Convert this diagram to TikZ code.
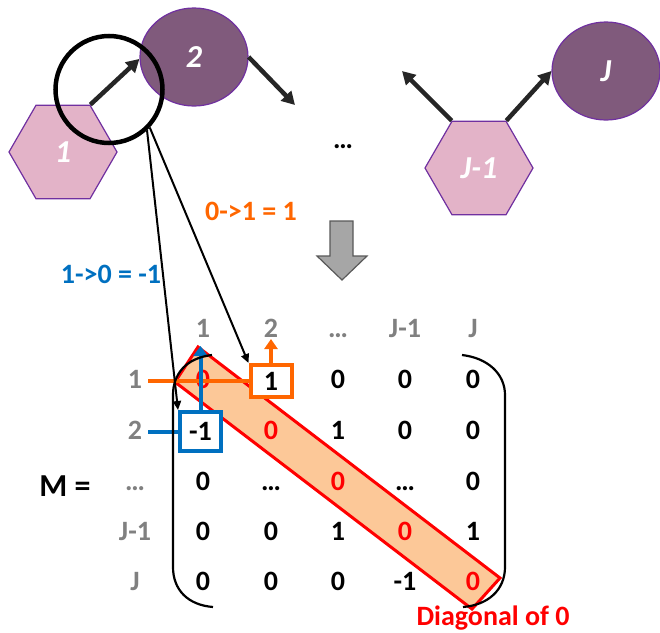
\documentclass[tikz,border=0pt]{standalone}
\usepackage{fontspec}
\setmainfont{Carlito}
\usetikzlibrary{shapes.geometric,arrows.meta}
\pgfdeclarelayer{bg}
\pgfsetlayers{bg,main}
\definecolor{hexfill}{RGB}{227,179,200}
\definecolor{ellfill}{RGB}{128,90,124}
\definecolor{purp}{RGB}{112,48,160}
\definecolor{arrowdark}{RGB}{38,38,38}
\definecolor{orng}{RGB}{255,102,0}
\definecolor{blu}{RGB}{0,112,192}
\definecolor{redc}{RGB}{255,0,0}
\definecolor{bandfill}{RGB}{252,200,152}
\definecolor{graytxt}{RGB}{128,128,128}
\definecolor{grayfill}{RGB}{166,166,166}
\definecolor{grayline}{RGB}{89,89,89}
\begin{document}
\begin{tikzpicture}[x=1pt,y=-1pt,
  every node/.style={font=\fontsize{28}{30}\selectfont\bfseries},
  lab/.style={anchor=base, inner sep=0},
  hdr/.style={lab, text=graytxt},
  diag/.style={lab, text=redc},
  hexnode/.style={regular polygon, regular polygon sides=6, minimum size=108pt, inner sep=0,
    fill=hexfill, draw=purp, line width=1.2pt, text=white,
    font=\fontsize{32}{34}\selectfont\bfseries\itshape},
  ellnode/.style={ellipse, minimum width=108pt, minimum height=98pt, inner sep=0,
    fill=ellfill, draw=purp, line width=1.2pt, text=white,
    font=\fontsize{32}{34}\selectfont\bfseries\itshape},
  bigarrow/.style={draw=arrowdark, line width=4.5pt, -{Triangle[length=13pt,width=14pt]}},
  thinarrow/.style={draw=black, line width=2pt, -{Triangle[length=9pt,width=8pt]}},
  obox/.style={draw=orng, line width=4pt, fill=white, minimum width=41pt, minimum height=32pt, inner sep=0},
  bbox/.style={draw=blu, line width=4pt, fill=white, minimum width=41pt, minimum height=39pt, inner sep=0},
  orline/.style={draw=orng, line width=4pt},
  bluline/.style={draw=blu, line width=4pt},
  parenline/.style={draw=black, line width=2.2pt},
]
\useasboundingbox (0,0) rectangle (660,632);

% top graph
\node[hexnode] (h1) at (63,152) {1};
\node[ellnode] (e2) at (194,57) {2};
\node[hexnode] (hJ) at (479,168) {J-1};
\node[ellnode] (eJ) at (606,71) {J};
\node[lab] (dots) at (343,148) {…};
\coordinate (e2out) at (295,105);
\coordinate (hJout) at (402,71);
\draw[bigarrow] (h1.60) -- (e2.182);
\draw[bigarrow] (e2.east) -- (e2out);
\draw[bigarrow] (hJ.120) -- (hJout);
\draw[bigarrow] (hJ.60) -- (eJ.west);
\node[circle, draw=black, line width=4.5pt, minimum size=107pt, inner sep=0] (zc) at (109,89.5) {};

% labels
\node[lab, text=orng] (lbl01) at (251,220) {0->1 = 1};
\node[lab, text=blu] (lbl10) at (111,283) {1->0 = -1};

% gray down arrow
\draw[fill=grayfill, draw=grayline, line width=1.2pt, line join=miter]
  (330,221) -- (353,221) -- (353,256) -- (367,256) -- (342,280) -- (317,256) -- (330,256) -- cycle;

% diagonal band
\begin{pgfonlayer}{bg}
\draw[fill=bandfill, draw=redc, line width=3pt, line join=miter]
  (198,347) -- (500,578) -- (472,609) -- (175,382) -- cycle;
\end{pgfonlayer}

% headers
\node[hdr] (c1) at (203,337) {1};
\node[hdr] (c2) at (271,337) {2};
\node[hdr] (c3) at (338,337) {…};
\node[hdr] (c4) at (405,337) {J-1};
\node[hdr] (c5) at (473,337) {J};
\node[hdr] (r1) at (135,388) {1};
\node[hdr] (r2) at (135,439) {2};
\node[hdr] (r3) at (135,490) {…};
\node[hdr] (r4) at (135,540) {J-1};
\node[hdr] (r5) at (135,590) {J};
\node[lab, font=\fontsize{32}{34}\selectfont\bfseries] (Mlab) at (65,496) {M =};

% row 1
\node[diag] (m11) at (203,388) {0};
\node[obox] (ob) at (271,381) {1};
\node[lab] (m13) at (338,388) {0};
\node[lab] (m14) at (405,388) {0};
\node[lab] (m15) at (473,388) {0};
% row 2
\node[bbox] (bb) at (200.5,431.5) {-1};
\node[diag] (m22) at (271,439) {0};
\node[lab] (m23) at (338,439) {1};
\node[lab] (m24) at (405,439) {0};
\node[lab] (m25) at (473,439) {0};
% row 3
\node[lab] (m31) at (203,490) {0};
\node[lab] (m32) at (271,490) {…};
\node[diag] (m33) at (338,490) {0};
\node[lab] (m34) at (405,490) {…};
\node[lab] (m35) at (473,490) {0};
% row 4
\node[lab] (m41) at (203,540) {0};
\node[lab] (m42) at (271,540) {0};
\node[lab] (m43) at (338,540) {1};
\node[diag] (m44) at (405,540) {0};
\node[lab] (m45) at (473,540) {1};
% row 5
\node[lab] (m51) at (203,590) {0};
\node[lab] (m52) at (271,590) {0};
\node[lab] (m53) at (338,590) {0};
\node[lab] (m54) at (405,590) {-1};
\node[diag] (m55) at (473,590) {0};

\node[lab, text=redc] (diaglbl) at (493,625) {Diagonal of 0};

% orange / blue markers
\coordinate (otip) at (271,339);
\coordinate (btip) at (200.5,346);
\draw[orline] ([xshift=6pt]r1.east |- ob.west) -- (ob.west);
\draw[orline, -{Triangle[length=10pt,width=13pt]}] (ob.north) -- (otip);
\draw[bluline] ([xshift=6pt]r2.east |- bb.west) -- (bb.west);
\draw[bluline, -{Triangle[length=10pt,width=14pt]}] (bb.north) -- (btip);

% parentheses
\draw[parenline] (212,355) .. controls (186,358) and (173,374) .. (173,395) -- (173,567)
  .. controls (173,590) and (188,605) .. (213,607);
\draw[parenline] (462,355) .. controls (488,358) and (505,374) .. (505,395) -- (505,567)
  .. controls (505,590) and (488,605) .. (463,607);

% thin arrows from the zoom circle
\draw[thinarrow] (zc.-47) -- (bb.north west);
\draw[thinarrow] (zc.-43) -- (ob.north west);
\end{tikzpicture}
\end{document}
